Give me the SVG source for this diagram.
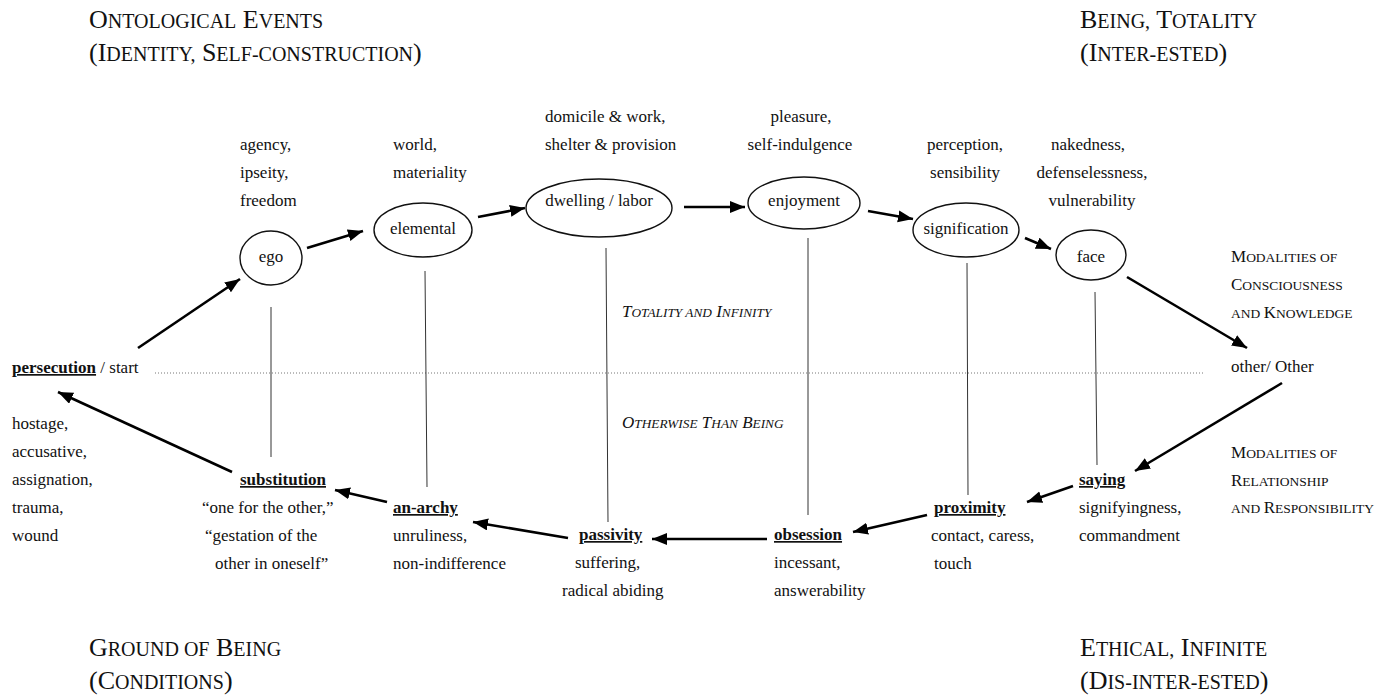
<svg xmlns="http://www.w3.org/2000/svg" width="1394" height="695" viewBox="0 0 1394 695">
<defs>
<style>
text{font-family:"Liberation Serif","Times New Roman",serif;fill:#111;}
.b{font-size:17px;}
.m{text-anchor:middle;}
.bu{font-size:17px;font-weight:bold;text-decoration:underline;}
.hd{font-size:26px;}
.hd .sc{font-size:20px;}
.md{font-size:17px;}
.md .sc{font-size:13.5px;}
.it{font-size:17px;font-style:italic;}
.it .sc{font-size:13.3px;}
.node{fill:none;stroke:#111;stroke-width:1.4;}
.arr{fill:none;stroke:#000;stroke-width:2.6;marker-end:url(#ah);}
.vl{stroke:#333;stroke-width:1;fill:none;}
.dot{stroke:#777;stroke-width:1;stroke-dasharray:1 2;fill:none;}
</style>
<marker id="ah" markerUnits="userSpaceOnUse" markerWidth="18" markerHeight="14" refX="15" refY="6" orient="auto">
<path d="M0,0 L15,6 L0,12 z" fill="#000"/>
</marker>
</defs>
<rect width="1394" height="695" fill="#fff"/>

<g id="headers">
<text class="hd" x="89" y="28">O<tspan class="sc">NTOLOGICAL</tspan> E<tspan class="sc">VENTS</tspan></text>
<text class="hd" x="89" y="61">(I<tspan class="sc">DENTITY,</tspan> S<tspan class="sc">ELF-CONSTRUCTION</tspan>)</text>
<text class="hd" x="1080" y="28">B<tspan class="sc">EING,</tspan> T<tspan class="sc">OTALITY</tspan></text>
<text class="hd" x="1080" y="61">(I<tspan class="sc">NTER-ESTED</tspan>)</text>
<text class="hd" x="89" y="656">G<tspan class="sc">ROUND OF</tspan> B<tspan class="sc">EING</tspan></text>
<text class="hd" x="89" y="689">(C<tspan class="sc">ONDITIONS</tspan>)</text>
<text class="hd" x="1080" y="656">E<tspan class="sc">THICAL,</tspan> I<tspan class="sc">NFINITE</tspan></text>
<text class="hd" x="1080" y="689">(D<tspan class="sc">IS-INTER-ESTED</tspan>)</text>
</g>

<g id="connectors">
<path class="dot" d="M155,373 H1205"/>
<path class="vl" d="M271,307 V457"/>
<path class="vl" d="M425,271 L427,487"/>
<path class="vl" d="M606,248 L608,522"/>
<path class="vl" d="M808,238 V515"/>
<path class="vl" d="M967,263 L968,495"/>
<path class="vl" d="M1095,292 L1097,465"/>
<path class="arr" d="M138,348 L240,279"/>
<path class="arr" d="M307,248 L363,231"/>
<path class="arr" d="M478,217 L525,208"/>
<path class="arr" d="M684,207 L745,207"/>
<path class="arr" d="M868,211 L913,219"/>
<path class="arr" d="M1025,238 L1051,249"/>
<path class="arr" d="M1127,277 L1247,348"/>
<path class="arr" d="M1282,383 L1135,471"/>
<path class="arr" d="M1073,486 L1027,502"/>
<path class="arr" d="M927,515 L853,532"/>
<path class="arr" d="M767,539 L652,539"/>
<path class="arr" d="M568,538 L473,522"/>
<path class="arr" d="M387,502 L335,490"/>
<path class="arr" d="M232,472 L58,392"/>
</g>

<g id="labels-center">
<text class="it" x="622" y="317">T<tspan class="sc">OTALITY AND</tspan> I<tspan class="sc">NFINITY</tspan></text>
<text class="it" x="622" y="428">O<tspan class="sc">THERWISE</tspan> T<tspan class="sc">HAN</tspan> B<tspan class="sc">EING</tspan></text>
</g>

<g id="ego">
<ellipse class="node" cx="271" cy="258" rx="31" ry="27"/>
<text class="b m" x="271" y="262">ego</text>
<text class="b" x="240" y="150">agency,</text>
<text class="b" x="240" y="178">ipseity,</text>
<text class="b" x="240" y="206">freedom</text>
</g>

<g id="elemental">
<ellipse class="node" cx="423" cy="230" rx="49" ry="27"/>
<text class="b m" x="423" y="234">elemental</text>
<text class="b" x="393" y="150">world,</text>
<text class="b" x="393" y="178">materiality</text>
</g>

<g id="dwelling">
<ellipse class="node" cx="599" cy="208" rx="73" ry="29"/>
<text class="b m" x="599" y="206">dwelling / labor</text>
<text class="b" x="545" y="122">domicile &amp; work,</text>
<text class="b" x="545" y="150">shelter &amp; provision</text>
</g>

<g id="enjoyment">
<ellipse class="node" cx="804" cy="203" rx="56" ry="26"/>
<text class="b m" x="804" y="206">enjoyment</text>
<text class="b m" x="801" y="122">pleasure,</text>
<text class="b m" x="800" y="150">self-indulgence</text>
</g>

<g id="signification">
<ellipse class="node" cx="966" cy="230" rx="53" ry="27"/>
<text class="b m" x="966" y="234">signification</text>
<text class="b m" x="965" y="150">perception,</text>
<text class="b m" x="965" y="178">sensibility</text>
</g>

<g id="face">
<ellipse class="node" cx="1091" cy="255" rx="35" ry="25"/>
<text class="b m" x="1091" y="262">face</text>
<text class="b m" x="1088" y="150">nakedness,</text>
<text class="b m" x="1092" y="178">defenselessness,</text>
<text class="b m" x="1092" y="206">vulnerability</text>
</g>

<g id="other">
<text class="b" x="1231" y="372">other/ Other</text>
<text class="md" x="1231" y="262">M<tspan class="sc">ODALITIES OF</tspan></text>
<text class="md" x="1231" y="290">C<tspan class="sc">ONSCIOUSNESS</tspan></text>
<text class="md" x="1231" y="318"><tspan class="sc">AND </tspan>K<tspan class="sc">NOWLEDGE</tspan></text>
<text class="md" x="1231" y="458">M<tspan class="sc">ODALITIES OF</tspan></text>
<text class="md" x="1231" y="486">R<tspan class="sc">ELATIONSHIP</tspan></text>
<text class="md" x="1231" y="513"><tspan class="sc">AND </tspan>R<tspan class="sc">ESPONSIBILITY</tspan></text>
</g>

<g id="saying">
<text class="bu" x="1079" y="485">saying</text>
<text class="b" x="1079" y="513">signifyingness,</text>
<text class="b" x="1079" y="541">commandment</text>
</g>

<g id="proximity">
<text class="bu" x="934" y="513">proximity</text>
<text class="b" x="931" y="541">contact, caress,</text>
<text class="b" x="934" y="569">touch</text>
</g>

<g id="obsession">
<text class="bu" x="774" y="540">obsession</text>
<text class="b" x="774" y="568">incessant,</text>
<text class="b" x="774" y="596">answerability</text>
</g>

<g id="passivity">
<text class="bu" x="579" y="540">passivity</text>
<text class="b" x="575" y="568">suffering,</text>
<text class="b" x="562" y="596">radical abiding</text>
</g>

<g id="an-archy">
<text class="bu" x="393" y="513">an-archy</text>
<text class="b" x="393" y="541">unruliness,</text>
<text class="b" x="393" y="569">non-indifference</text>
</g>

<g id="substitution">
<text class="bu" x="240" y="485">substitution</text>
<text class="b" x="202" y="513">“one for the other,”</text>
<text class="b" x="205" y="541">“gestation of the</text>
<text class="b" x="215" y="569">other in oneself”</text>
</g>

<g id="persecution">
<text class="b" x="12" y="373"><tspan style="font-weight:bold;text-decoration:underline">persecution</tspan> / start</text>
<text class="b" x="12" y="429">hostage,</text>
<text class="b" x="12" y="457">accusative,</text>
<text class="b" x="12" y="485">assignation,</text>
<text class="b" x="12" y="513">trauma,</text>
<text class="b" x="12" y="541">wound</text>
</g>
</svg>
